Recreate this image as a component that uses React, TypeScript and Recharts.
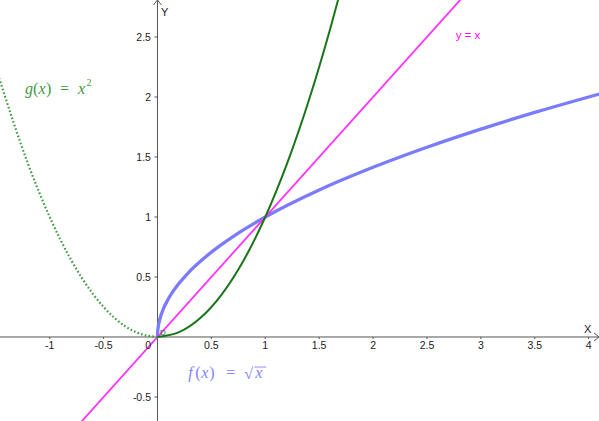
import React from "react";
import { ComposedChart, Line, XAxis, YAxis, ReferenceLine, ReferenceDot } from "recharts";

// Domain of the visible window
const X_MIN = -1.461;
const X_MAX = 4.096;
const Y_MIN = -0.7;
const Y_MAX = 2.808;

// Tick labels
const xTicks = [-1, -0.5, 0.5, 1, 1.5, 2, 2.5, 3, 3.5, 4];
const yTicks = [-0.5, 0.5, 1, 1.5, 2, 2.5];

// f(x) = sqrt(x)
const sqrtData = [
  { x: 0, y: 0 },
  { x: 0.001, y: 0.032 },
  { x: 0.005, y: 0.071 },
  { x: 0.02, y: 0.141 },
  { x: 0.05, y: 0.224 },
  { x: 0.1, y: 0.316 },
  { x: 0.2, y: 0.447 },
  { x: 0.3, y: 0.548 },
  { x: 0.5, y: 0.707 },
  { x: 0.75, y: 0.866 },
  { x: 1, y: 1 },
  { x: 1.5, y: 1.225 },
  { x: 2, y: 1.414 },
  { x: 2.5, y: 1.581 },
  { x: 3, y: 1.732 },
  { x: 3.5, y: 1.871 },
  { x: 4, y: 2 },
  { x: 4.1, y: 2.025 },
];

// g(x) = x^2, solid part (x >= 0)
const squareRight = [
  { x: 0, y: 0 },
  { x: 0.2, y: 0.04 },
  { x: 0.4, y: 0.16 },
  { x: 0.6, y: 0.36 },
  { x: 0.8, y: 0.64 },
  { x: 1, y: 1 },
  { x: 1.2, y: 1.44 },
  { x: 1.4, y: 1.96 },
  { x: 1.6, y: 2.56 },
  { x: 1.7, y: 2.89 },
];

// g(x) = x^2, dotted part (x <= 0)
const squareLeft = [
  { x: -1.47, y: 2.16 },
  { x: -1.2, y: 1.44 },
  { x: -1, y: 1 },
  { x: -0.8, y: 0.64 },
  { x: -0.6, y: 0.36 },
  { x: -0.4, y: 0.16 },
  { x: -0.2, y: 0.04 },
  { x: 0, y: 0 },
];

// y = x
const identityData = [
  { x: -0.8, y: -0.8 },
  { x: 3, y: 3 },
];

// Label anchors (data coordinates)
const gLabelPos = { x: -1.229, y: 2.025 };
const fLabelPos = { x: 0.286, y: -0.342 };
const idLabelPos = { x: 2.766, y: 2.481 };

const AXIS = "#555555";
const TICK_FONT = "'Liberation Sans', Arial, sans-serif";
const MATH_FONT = "'Liberation Serif', 'Times New Roman', serif";

const XTick = (label: string) => (props: any) => {
  const { cx, cy } = props;
  return (
    <g>
      <line x1={cx} x2={cx} y1={cy} y2={cy + 2} stroke={AXIS} strokeWidth={1} />
      <text x={cx} y={cy + 12} textAnchor="middle" fontFamily={TICK_FONT} fontSize={10.5} fill="#222">
        {label}
      </text>
    </g>
  );
};

const YTick = (label: string) => (props: any) => {
  const { cx, cy } = props;
  return (
    <g>
      <line x1={cx - 3} x2={cx} y1={cy} y2={cy} stroke={AXIS} strokeWidth={1} />
      <text x={cx - 6.5} y={cy + 4} textAnchor="end" fontFamily={TICK_FONT} fontSize={10.5} fill="#222">
        {label}
      </text>
    </g>
  );
};

const OriginLabel = (props: any) => {
  const { cx, cy } = props;
  return (
    <g>
      <text x={cx - 6.5} y={cy + 12} textAnchor="end" fontFamily={TICK_FONT} fontSize={10.5} fill="#222">
        0
      </text>
      <text x={cx + 2.5} y={cy - 2} fontFamily={TICK_FONT} fontSize={8} fill="#1e7b1e">
        D
      </text>
    </g>
  );
};

const XArrow = (props: any) => {
  const { cx, cy } = props;
  return (
    <g>
      <polyline points={`${cx - 5},${cy - 4} ${cx},${cy} ${cx - 5},${cy + 4}`} fill="none" stroke={AXIS} strokeWidth={1} />
      <text x={cx - 15} y={cy - 4} fontFamily={TICK_FONT} fontSize={11} fill="#222">
        X
      </text>
    </g>
  );
};

const YArrow = (props: any) => {
  const { cx, cy } = props;
  return (
    <g>
      <polyline points={`${cx - 4},${cy + 5} ${cx},${cy} ${cx + 4},${cy + 5}`} fill="none" stroke={AXIS} strokeWidth={1} />
      <text x={cx + 3.5} y={cy + 16} fontFamily={TICK_FONT} fontSize={11} fill="#222">
        Y
      </text>
    </g>
  );
};

const GLabel = (props: any) => {
  const { cx, cy } = props;
  const c = "#3f9a3f";
  return (
    <g fill={c} fontFamily={MATH_FONT} fontSize={16}>
      <text x={cx} y={cy} fontStyle="italic">g</text>
      <text x={cx + 8} y={cy}>(</text>
      <text x={cx + 13.5} y={cy} fontStyle="italic">x</text>
      <text x={cx + 21} y={cy}>)</text>
      <text x={cx + 35} y={cy}>=</text>
      <text x={cx + 53} y={cy} fontStyle="italic">x</text>
      <text x={cx + 61.5} y={cy - 7.5} fontSize={10}>2</text>
    </g>
  );
};

const FLabel = (props: any) => {
  const { cx, cy } = props;
  const c = "#8282ff";
  return (
    <g fill={c} fontFamily={MATH_FONT} fontSize={16}>
      <text x={cx} y={cy} fontStyle="italic">f</text>
      <text x={cx + 7} y={cy}>(</text>
      <text x={cx + 13} y={cy} fontStyle="italic">x</text>
      <text x={cx + 21} y={cy}>)</text>
      <text x={cx + 38} y={cy}>=</text>
      <text x={cx + 56} y={cy + 1}>√</text>
      <line x1={cx + 66} x2={cx + 78} y1={cy - 11} y2={cy - 11} stroke={c} strokeWidth={0.9} />
      <text x={cx + 67} y={cy} fontStyle="italic">x</text>
    </g>
  );
};

const IdLabel = (props: any) => {
  const { cx, cy } = props;
  return (
    <text x={cx} y={cy} fontFamily={TICK_FONT} fontSize={11.5} fill="#ff00ff">
      y = x
    </text>
  );
};

export default function App() {
  return (
    <div style={{ width: 599, height: 421 }}>
      <style>{"body{margin:0}"}</style>
      <ComposedChart width={599} height={421} margin={{ top: 0, right: 0, bottom: 0, left: 0 }}>
        <XAxis type="number" dataKey="x" domain={[X_MIN, X_MAX]} allowDataOverflow hide />
        <YAxis type="number" dataKey="y" domain={[Y_MIN, Y_MAX]} allowDataOverflow hide />

        <ReferenceLine x={0} stroke={AXIS} strokeWidth={1} />
        <ReferenceLine y={0} stroke={AXIS} strokeWidth={1} />

        {xTicks.map((t) => (
          <ReferenceDot key={"xt" + t} x={t} y={0} r={0} ifOverflow="visible" shape={XTick(String(t))} />
        ))}
        {yTicks.map((t) => (
          <ReferenceDot key={"yt" + t} x={0} y={t} r={0} ifOverflow="visible" shape={YTick(String(t))} />
        ))}
        <ReferenceDot x={0} y={0} r={0} ifOverflow="visible" shape={OriginLabel} />
        <ReferenceDot x={X_MAX} y={0} r={0} ifOverflow="visible" shape={XArrow} />
        <ReferenceDot x={0} y={Y_MAX} r={0} ifOverflow="visible" shape={YArrow} />

        <Line data={sqrtData} dataKey="y" type="monotone" stroke="#7b7bff" strokeWidth={3.3} dot={false} isAnimationActive={false} />
        <Line data={identityData} dataKey="y" type="linear" stroke="#ff33ff" strokeWidth={1.8} dot={false} isAnimationActive={false} />
        <Line data={squareLeft} dataKey="y" type="monotone" stroke="#3f9a3f" strokeWidth={2.2} strokeDasharray="1.6 2.2" dot={false} isAnimationActive={false} />
        <Line data={squareRight} dataKey="y" type="monotone" stroke="#187518" strokeWidth={2} dot={false} isAnimationActive={false} />

        <ReferenceDot x={gLabelPos.x} y={gLabelPos.y} r={0} ifOverflow="visible" shape={GLabel} />
        <ReferenceDot x={fLabelPos.x} y={fLabelPos.y} r={0} ifOverflow="visible" shape={FLabel} />
        <ReferenceDot x={idLabelPos.x} y={idLabelPos.y} r={0} ifOverflow="visible" shape={IdLabel} />
      </ComposedChart>
    </div>
  );
}
